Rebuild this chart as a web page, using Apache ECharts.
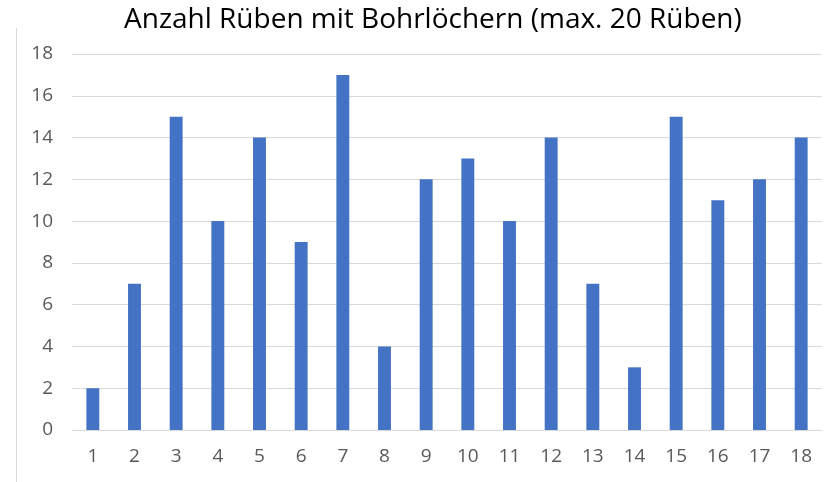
<!DOCTYPE html>
<html><head><meta charset="utf-8">
<script src="https://cdn.jsdelivr.net/npm/echarts@6/dist/echarts.min.js"></script>
<style>html,body{margin:0;padding:0;background:#fff}#c{width:830px;height:482px}</style>
</head><body><div id="c"></div>
<script>
const categories = ['1','2','3','4','5','6','7','8','9','10','11','12','13','14','15','16','17','18'];
const values = [2,7,15,10,14,9,17,4,12,13,10,14,7,3,15,11,12,14];
const titleText = 'Anzahl Rüben mit Bohrlöchern (max. 20 Rüben)';
const chart = echarts.init(document.getElementById('c'));
chart.setOption({
  animation:false,
  title:{text:titleText,left:119,top:1,textStyle:{fontFamily:'Open Sans',fontSize:28,fontWeight:'normal',color:'#000'}},
  graphic:[{type:'line',shape:{x1:16.5,y1:28,x2:16.5,y2:482},style:{stroke:'#d9d9d9',lineWidth:1}}],
  grid:{left:72,right:8,top:54,bottom:52},
  xAxis:{type:'category',data:categories,axisTick:{show:false},
    axisLine:{lineStyle:{color:'#d9d9d9',width:1}},
    axisLabel:{color:'#595959',fontFamily:'Open Sans',fontSize:19,margin:17}},
  yAxis:{type:'value',min:0,max:18,interval:2,
    axisLine:{show:false},axisTick:{show:false},
    splitLine:{lineStyle:{color:'#d9d9d9',width:1}},
    axisLabel:{color:'#595959',fontFamily:'Open Sans',fontSize:19,margin:19}},
  series:[{type:'bar',data:values,barWidth:'31%',itemStyle:{color:'#4472c4'}}]
});
</script></body></html>
